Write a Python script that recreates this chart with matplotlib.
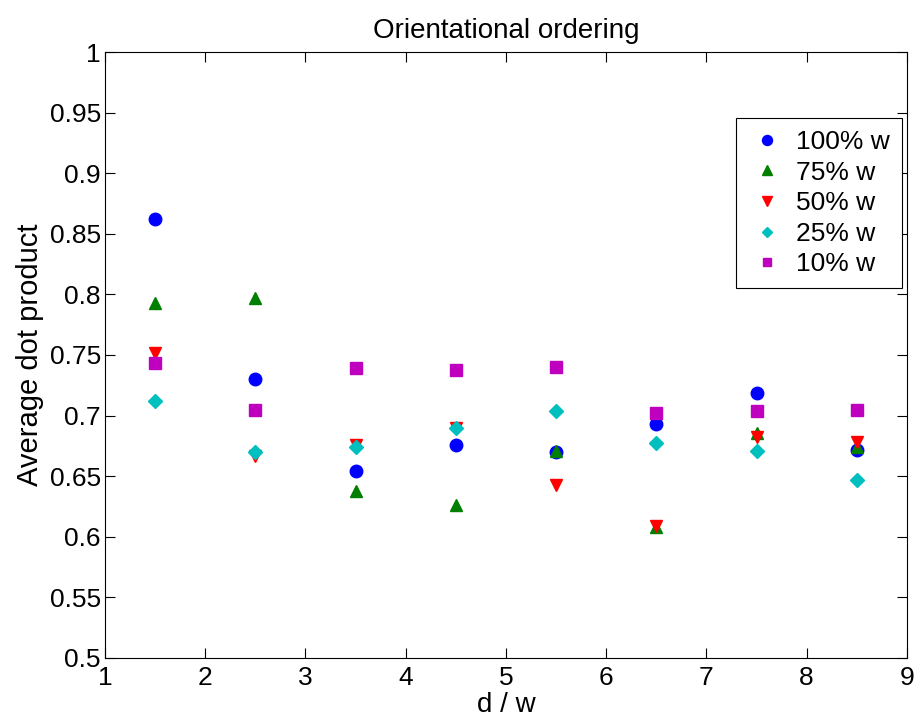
import matplotlib.pyplot as plt

plt.rcParams['font.family'] = ['Liberation Sans', 'DejaVu Sans']

x = [1.5, 2.5, 3.5, 4.5, 5.5, 6.5, 7.5, 8.5]
w100 = [0.862, 0.730, 0.654, 0.676, 0.670, 0.693, 0.719, 0.672]
w75 = [0.793, 0.797, 0.638, 0.626, 0.671, 0.608, 0.686, 0.674]
w50 = [0.752, 0.667, 0.676, 0.690, 0.643, 0.609, 0.682, 0.678]
w25 = [0.712, 0.670, 0.674, 0.690, 0.704, 0.677, 0.671, 0.647]
w10 = [0.743, 0.705, 0.739, 0.738, 0.740, 0.702, 0.704, 0.705]
labels = ['100% w', '75% w', '50% w', '25% w', '10% w']

fig = plt.figure(figsize=(9.17, 7.23), dpi=100)
ax = fig.add_axes([0.1145, 0.090, 0.8745, 0.838])

ax.plot(x, w100, 'o', color='#0000ff', markersize=9, label=labels[0])
ax.plot(x, w75, '^', color='#007f00', markersize=9, label=labels[1])
ax.plot(x, w50, 'v', color='#ff0000', markersize=9, label=labels[2])
ax.plot(x, w25, 'D', color='#00bfbf', markersize=7, label=labels[3])
ax.plot(x, w10, 's', color='#bf00bf', markersize=8, label=labels[4])

ax.set_xlim(1, 9)
ax.set_ylim(0.5, 1)
ax.set_xticks(range(1, 10))
ax.set_yticks([0.5, 0.55, 0.6, 0.65, 0.7, 0.75, 0.8, 0.85, 0.9, 0.95, 1])
ax.set_yticklabels(['0.5', '0.55', '0.6', '0.65', '0.7', '0.75', '0.8', '0.85', '0.9', '0.95', '1'])
ax.tick_params(direction='in', length=7, labelsize=19, top=True, right=True)
ax.tick_params(axis='x', pad=6)
ax.tick_params(axis='y', pad=3)

ax.set_title('Orientational ordering', fontsize=20, pad=10)
ax.set_xlabel('d / w', fontsize=20, labelpad=1)
ax.set_ylabel('Average dot product', fontsize=21, labelpad=4)

leg = ax.legend(loc='upper right', bbox_to_anchor=(0.994, 0.891), fontsize=19,
                fancybox=False, edgecolor='black', framealpha=1,
                handlelength=1.5, handletextpad=0.35, borderpad=0.45,
                labelspacing=0.25, markerscale=0.8, borderaxespad=0)
leg.get_frame().set_linewidth(0.8)

fig.savefig('out.png', dpi=100)
